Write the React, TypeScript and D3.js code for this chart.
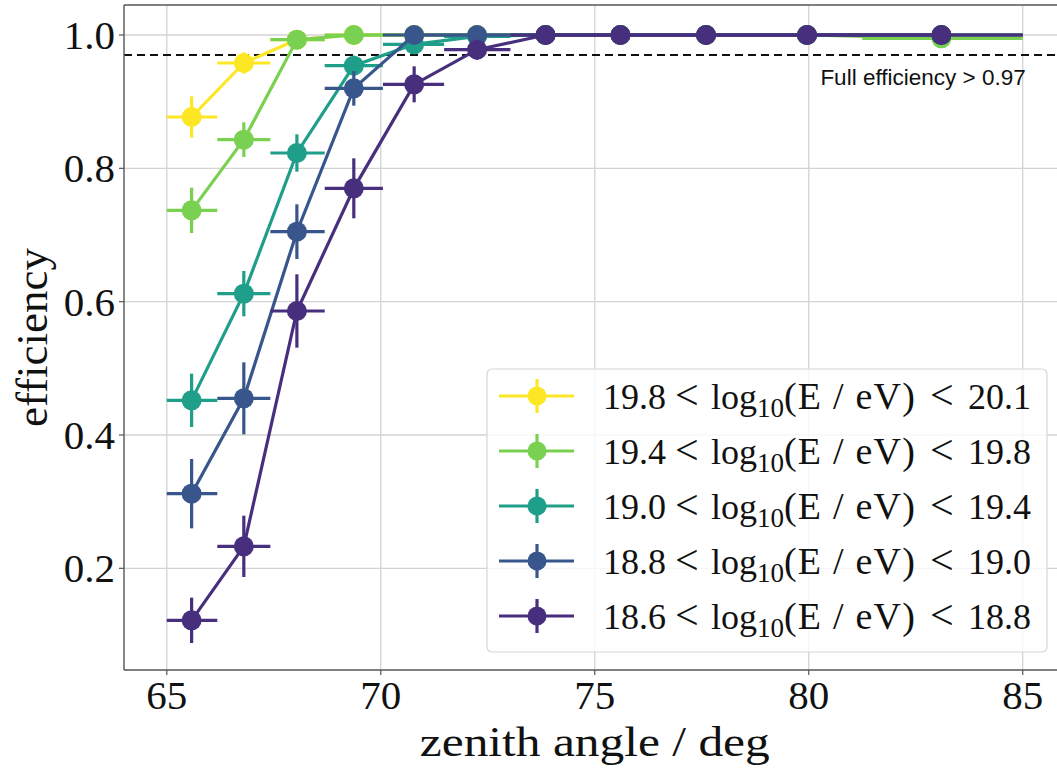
import React from "react";
import * as d3 from "d3";

// ---- data ----
const xCenters = [65.58, 66.8, 68.04, 69.37, 70.78, 72.25, 73.85, 75.6, 77.6, 79.96, 83.1];
const xLow = [65.0, 66.18, 67.42, 68.69, 70.05, 71.48, 73.03, 74.69, 76.53, 78.66, 81.25];
const xHigh = [66.18, 67.42, 68.69, 70.05, 71.48, 73.03, 74.69, 76.53, 78.66, 81.25, 85.0];

const effYellow = [0.877, 0.958, 0.993, 1.0, 1.0, 1.0, 1.0, 1.0, 1.0, 1.0, 1.0];
const errYellow = [0.031, 0.016, 0.006, 0.002, 0, 0, 0, 0, 0, 0, 0];
const effGreen = [0.737, 0.843, 0.993, 1.0, 1.0, 1.0, 1.0, 1.0, 1.0, 1.0, 0.995];
const errGreen = [0.034, 0.026, 0.008, 0.003, 0, 0, 0, 0, 0, 0, 0.003];
const effTeal = [0.452, 0.612, 0.823, 0.954, 0.986, 0.998, 1.0, 1.0, 1.0, 1.0, 1.0];
const errTeal = [0.04, 0.034, 0.028, 0.015, 0.008, 0.003, 0, 0, 0, 0, 0];
const effBlue = [0.312, 0.455, 0.705, 0.92, 1.0, 1.0, 1.0, 1.0, 1.0, 1.0, 1.0];
const errBlue = [0.052, 0.054, 0.041, 0.026, 0.002, 0, 0, 0, 0, 0, 0];
const effPurple = [0.122, 0.233, 0.586, 0.77, 0.926, 0.978, 1.0, 1.0, 1.0, 1.0, 1.0];
const errPurple = [0.034, 0.046, 0.055, 0.045, 0.027, 0.015, 0.002, 0, 0, 0, 0];

const seriesLow = ["19.8", "19.4", "19.0", "18.8", "18.6"];
const seriesHigh = ["20.1", "19.8", "19.4", "19.0", "18.8"];
const seriesColors = ["#fde725", "#7ad151", "#1f9e89", "#39568c", "#472f7d"];
const seriesValues = [effYellow, effGreen, effTeal, effBlue, effPurple];
const seriesErrors = [errYellow, errGreen, errTeal, errBlue, errPurple];

const xTicks = [65, 70, 75, 80, 85];
const yTicks = [0.2, 0.4, 0.6, 0.8, 1.0];
const fullEffThreshold = 0.97;

// ---- layout ----
const W = 1057;
const H = 769;
const left = 124;
const right = 1065.5;
const top = 5;
const bottom = 670;

export default function App() {
  const x = d3.scaleLinear().domain([64, 86]).range([left, right]);
  const y = d3.scaleLinear().domain([0.0475, 1.045]).range([bottom, top]);
  const line = d3
    .line<number>()
    .x((_, i) => x(xCenters[i]))
    .y((d) => y(d));

  const serif = "'Liberation Serif', 'Times New Roman', serif";
  const lw = 3.2;

  return (
    <div style={{ position: "absolute", left: 0, top: 0 }}>
      <svg width={W} height={H} style={{ display: "block", background: "#fff" }}>
        <rect x={0} y={0} width={W} height={H} fill="#fff" />
        {/* grid */}
        {xTicks.map((t) => (
          <line key={"gx" + t} x1={x(t)} x2={x(t)} y1={top} y2={bottom} stroke="#d3d3d3" strokeWidth={1.3} />
        ))}
        {yTicks.map((t) => (
          <line key={"gy" + t} x1={left} x2={right} y1={y(t)} y2={y(t)} stroke="#d3d3d3" strokeWidth={1.3} />
        ))}

        {/* threshold */}
        <line
          x1={left}
          x2={right}
          y1={y(fullEffThreshold)}
          y2={y(fullEffThreshold)}
          stroke="#111"
          strokeWidth={2.2}
          strokeDasharray="8,5"
        />
        <text
          x={x(85) + 3}
          y={y(fullEffThreshold) + 30}
          textAnchor="end"
          fontFamily="'Liberation Sans', Arial, sans-serif"
          fontSize={22.5}
          fill="#111"
        >
          Full efficiency &gt; 0.97
        </text>

        {/* series */}
        {seriesValues.map((vals, s) => {
          const c = seriesColors[s];
          const errs = seriesErrors[s];
          return (
            <g key={"s" + s}>
              {vals.map((v, i) => (
                <g key={i}>
                  <line x1={x(xLow[i])} x2={x(xHigh[i])} y1={y(v)} y2={y(v)} stroke={c} strokeWidth={lw} />
                  <line x1={x(xCenters[i])} x2={x(xCenters[i])} y1={y(v - errs[i])} y2={y(v + errs[i])} stroke={c} strokeWidth={lw} />
                </g>
              ))}
              <path d={line(vals) || ""} fill="none" stroke={c} strokeWidth={lw} />
              {vals.map((v, i) => (
                <circle key={"c" + i} cx={x(xCenters[i])} cy={y(v)} r={10} fill={c} />
              ))}
            </g>
          );
        })}

        {/* spines */}
        <line x1={left} x2={left} y1={top} y2={bottom} stroke="#555" strokeWidth={1.4} />
        <line x1={left} x2={right} y1={bottom} y2={bottom} stroke="#555" strokeWidth={1.4} />
        <line x1={left} x2={right} y1={top} y2={top} stroke="#555" strokeWidth={1.4} />
        <line x1={right} x2={right} y1={top} y2={bottom} stroke="#555" strokeWidth={1.4} />

        {/* ticks */}
        {xTicks.map((t) => (
          <g key={"xt" + t}>
            <line x1={x(t)} x2={x(t)} y1={bottom} y2={bottom + 5} stroke="#555" strokeWidth={1.2} />
            <text x={x(t)} y={709} textAnchor="middle" fontFamily={serif} fontSize={41} fill="#111">
              {t}
            </text>
          </g>
        ))}
        {yTicks.map((t) => (
          <g key={"yt" + t}>
            <line x1={left - 5} x2={left} y1={y(t)} y2={y(t)} stroke="#555" strokeWidth={1.2} />
            <text x={115} y={y(t) + 14} textAnchor="end" fontFamily={serif} fontSize={41} fill="#111">
              {t.toFixed(1)}
            </text>
          </g>
        ))}

        {/* axis labels */}
        <text
          x={(left + right) / 2}
          y={756}
          textAnchor="middle"
          fontFamily={serif}
          fontSize={43}
          textLength={350}
          lengthAdjust="spacingAndGlyphs"
          fill="#111"
        >
          zenith angle / deg
        </text>
        <text
          transform={`translate(47, ${(top + bottom) / 2}) rotate(-90)`}
          textAnchor="middle"
          fontFamily={serif}
          fontSize={45}
          fill="#111"
        >
          efficiency
        </text>

        {/* legend */}
        <rect x={487} y={369} width={560} height={283} rx={5} fill="#fff" fillOpacity={0.8} stroke="#d6d6d6" strokeWidth={1.2} />
        {seriesColors.map((c, s) => {
          const cy = 396 + s * 55;
          return (
            <g key={"lg" + s}>
              <line x1={499} x2={574} y1={cy} y2={cy} stroke={c} strokeWidth={lw} />
              <line x1={537} x2={537} y1={cy - 17} y2={cy + 17} stroke={c} strokeWidth={lw} />
              <circle cx={537} cy={cy} r={9.5} fill={c} />
              <text y={cy + 13} fontFamily={serif} fontSize={36} fill="#111">
                <tspan x={603}>{seriesLow[s]}</tspan>
                <tspan x={675} fontSize={42}>&lt;</tspan>
                <tspan x={711}>log</tspan>
                <tspan fontSize={27} dy={8}>10</tspan>
                <tspan dy={-8} fontSize={38} letterSpacing={1.2}>(E / eV)</tspan>
                <tspan x={930} fontSize={42}>&lt;</tspan>
                <tspan x={968}>{seriesHigh[s]}</tspan>
              </text>
            </g>
          );
        })}
      </svg>
    </div>
  );
}
